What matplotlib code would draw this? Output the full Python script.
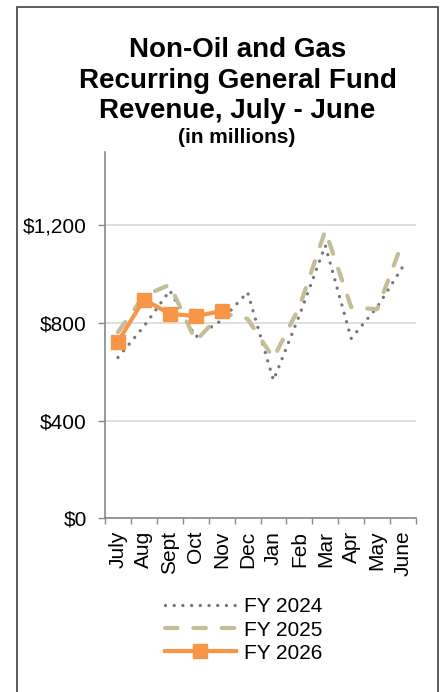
import matplotlib
matplotlib.use('Agg')
import matplotlib.pyplot as plt
from matplotlib.patches import Rectangle

# Chart data (millions of dollars)
months = ['July', 'Aug', 'Sept', 'Oct', 'Nov', 'Dec',
          'Jan', 'Feb', 'Mar', 'Apr', 'May', 'June']
fy2024 = [658, 785, 932, 742, 810, 925, 565, 830, 1116, 736, 864, 1031]
fy2025 = [762, 910, 956, 725, 840, 816, 655, 865, 1177, 864, 855, 1135]
fy2026 = [723, 895, 837, 827, 848]
yticks = [0, 400, 800, 1200]
ytick_labels = ['$0', '$400', '$800', '$1,200']

plt.rcParams['font.family'] = ['Liberation Sans', 'DejaVu Sans']

fig = plt.figure(figsize=(4.43, 6.92), dpi=100)

# outer frame
fig.patches.append(Rectangle((17 / 443, -0.05), 421 / 443, 1.05 - 7 / 692,
                             transform=fig.transFigure, fill=False,
                             edgecolor='#404040', linewidth=1.2))

ax = fig.add_axes([105 / 443, 1 - 518.3 / 692, 311 / 443, 366.6 / 692])

x = list(range(len(months)))
ax.plot(x, fy2024, color='#767676', linewidth=2.4,
        linestyle=(0, (0.01, 2.6)), dash_capstyle='round', label='FY 2024')
ax.plot(x, fy2025, color='#c4bd97', linewidth=3.0,
        linestyle=(0, (3.0, 3.8)), dash_capstyle='round', label='FY 2025')
ax.plot(x[:len(fy2026)], fy2026, color='#f79646', linewidth=3.0,
        marker='s', markersize=10, label='FY 2026')

ax.set_xlim(-0.5, len(months) - 0.5)
ax.set_ylim(0, 1500)
ax.set_yticks(yticks)
ax.set_yticklabels(ytick_labels)
ax.yaxis.grid(True, color='#d9d9d9', linewidth=1.2)
ax.set_axisbelow(True)

ax.set_xticks(x)
ax.set_xticklabels(months, rotation=90, va='top', ha='center')
ax.set_xticks([i - 0.5 for i in range(len(months) + 1)], minor=True)
ax.tick_params(axis='x', which='major', length=0, pad=9, labelsize=15)
ax.tick_params(axis='x', which='minor', length=4, color='#888888', width=1)
ax.tick_params(axis='y', length=5, color='#888888', width=1, pad=8,
               labelsize=15)

for side in ['top', 'right']:
    ax.spines[side].set_visible(False)
for side in ['left', 'bottom']:
    ax.spines[side].set_color('#888888')
    ax.spines[side].set_linewidth(1.2)

# title
title_lines = ['Non-Oil and Gas', 'Recurring General Fund', 'Revenue, July - June']
title_y = [56.7, 88.3, 118.3]
for line, yy in zip(title_lines, title_y):
    fig.text(0.536, 1 - yy / 692, line, ha='center', va='baseline',
             fontsize=20, fontweight='bold')
fig.text(0.534, 1 - 143.3 / 692, '(in millions)', ha='center', va='baseline',
         fontsize=15, fontweight='bold')

fig.legend(loc='center left', bbox_to_anchor=(165 / 443, 1 - 630 / 692),
           frameon=False, fontsize=15, handlelength=3.4, handletextpad=0.4,
           labelspacing=0.2, borderpad=0, borderaxespad=0)

fig.savefig('out.png', dpi=100)
